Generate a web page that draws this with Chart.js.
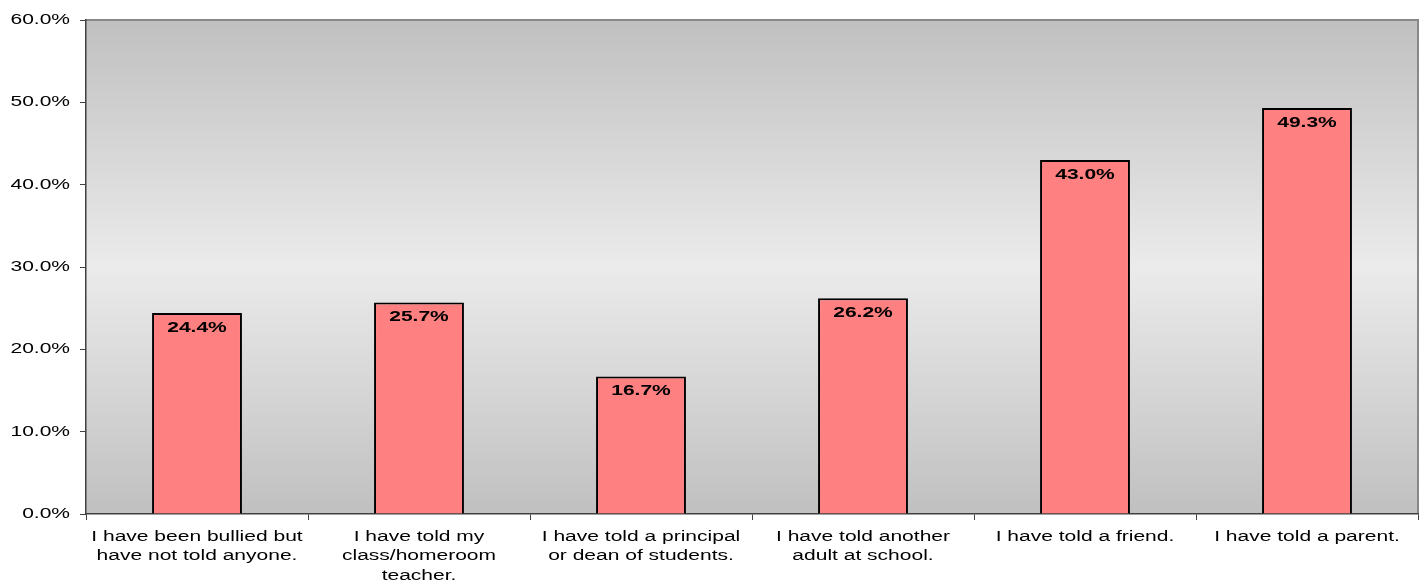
<!DOCTYPE html>
<html><head><meta charset="utf-8">
<script src="https://cdn.jsdelivr.net/npm/chart.js@4"></script>
<style>html,body{margin:0;padding:0;background:#fff}#wrap{width:1426px;height:583px}</style>
</head><body><div id="wrap"><canvas id="c" width="1426" height="583"></canvas></div>
<script>
const categories = [
  ["I have been bullied but","have not told anyone."],
  ["I have told my","class/homeroom","teacher."],
  ["I have told a principal","or dean of students."],
  ["I have told another","adult at school."],
  ["I have told a friend."],
  ["I have told a parent."]
];
const values = [24.4, 25.7, 16.7, 26.2, 43.0, 49.3];
const yTicks = [0, 10, 20, 30, 40, 50, 60];

const FONT = '"Liberation Sans", Arial, sans-serif';
const STRETCH = 1.5;

function stretchedText(ctx, text, x, y, align) {
  ctx.save();
  ctx.translate(x, y);
  ctx.scale(STRETCH, 1);
  ctx.textAlign = align;
  ctx.fillText(text, 0, 0);
  ctx.restore();
}

const bgPlugin = {
  id: 'bg',
  beforeDraw(chart) {
    const {ctx, chartArea: a} = chart;
    const g = ctx.createLinearGradient(0, a.top, 0, a.bottom);
    g.addColorStop(0, '#c0c0c0');
    g.addColorStop(0.5, '#ebebeb');
    g.addColorStop(1, '#c0c0c0');
    ctx.save();
    ctx.fillStyle = g;
    ctx.fillRect(a.left, a.top, a.right - a.left, a.bottom - a.top);
    ctx.strokeStyle = '#888888';
    ctx.lineWidth = 2;
    ctx.beginPath();
    ctx.moveTo(a.left, a.top);
    ctx.lineTo(a.right, a.top);
    ctx.lineTo(a.right, a.bottom);
    ctx.stroke();
    ctx.restore();
  },
  afterDatasetsDraw(chart) {
    const {ctx} = chart;
    const meta = chart.getDatasetMeta(0);
    ctx.save();
    ctx.font = 'bold 14px ' + FONT;
    ctx.fillStyle = '#000';
    ctx.textBaseline = 'middle';
    meta.data.forEach((bar, i) => {
      stretchedText(ctx, values[i].toFixed(1) + '%', bar.x, bar.y + 15, 'center');
    });
    ctx.restore();
  },
  afterDraw(chart) {
    const {ctx, chartArea: a} = chart;
    const ys = chart.scales.y, xs = chart.scales.x;
    ctx.save();
    ctx.font = '14px ' + FONT;
    ctx.fillStyle = '#000';
    ctx.textBaseline = 'middle';
    yTicks.forEach(v => {
      stretchedText(ctx, v.toFixed(1) + '%', 70, ys.getPixelForValue(v), 'right');
    });
    categories.forEach((lines, i) => {
      const x = xs.getPixelForValue(i);
      lines.forEach((ln, k) => {
        stretchedText(ctx, ln, x, a.bottom + 23 + k * 19.5, 'center');
      });
    });
    ctx.restore();
  }
};

new Chart(document.getElementById('c'), {
  type: 'bar',
  data: {
    labels: categories,
    datasets: [{
      data: values,
      backgroundColor: '#ff8080',
      borderColor: '#000000',
      borderWidth: 2,
      categoryPercentage: 1.0,
      barPercentage: 0.405
    }]
  },
  options: {
    responsive: false,
    animation: false,
    layout: {padding: {left: 0, right: 8, top: 20, bottom: 0}},
    plugins: {legend: {display: false}, tooltip: {enabled: false}},
    scales: {
      x: {
        grid: {drawOnChartArea: false, drawTicks: true, tickLength: 6, color: '#404040', offset: true},
        border: {color: '#404040', width: 1.5},
        ticks: {color: 'rgba(0,0,0,0)', font: {family: FONT, size: 14, lineHeight: 1.25}, maxRotation: 0, autoSkip: false, padding: 6},
        afterFit(s) { s.height = 69; }
      },
      y: {
        min: 0, max: 60,
        afterBuildTicks(s) { s.ticks = yTicks.map(v => ({value: v})); },
        grid: {drawOnChartArea: false, drawTicks: true, tickLength: 6, color: '#404040'},
        border: {color: '#404040', width: 1.5},
        ticks: {color: 'rgba(0,0,0,0)', font: {family: FONT, size: 14}, padding: 10,
          callback: v => v.toFixed(1) + '%'},
        afterFit(s) { s.width = 86; }
      }
    }
  },
  plugins: [bgPlugin]
});
</script></body></html>
